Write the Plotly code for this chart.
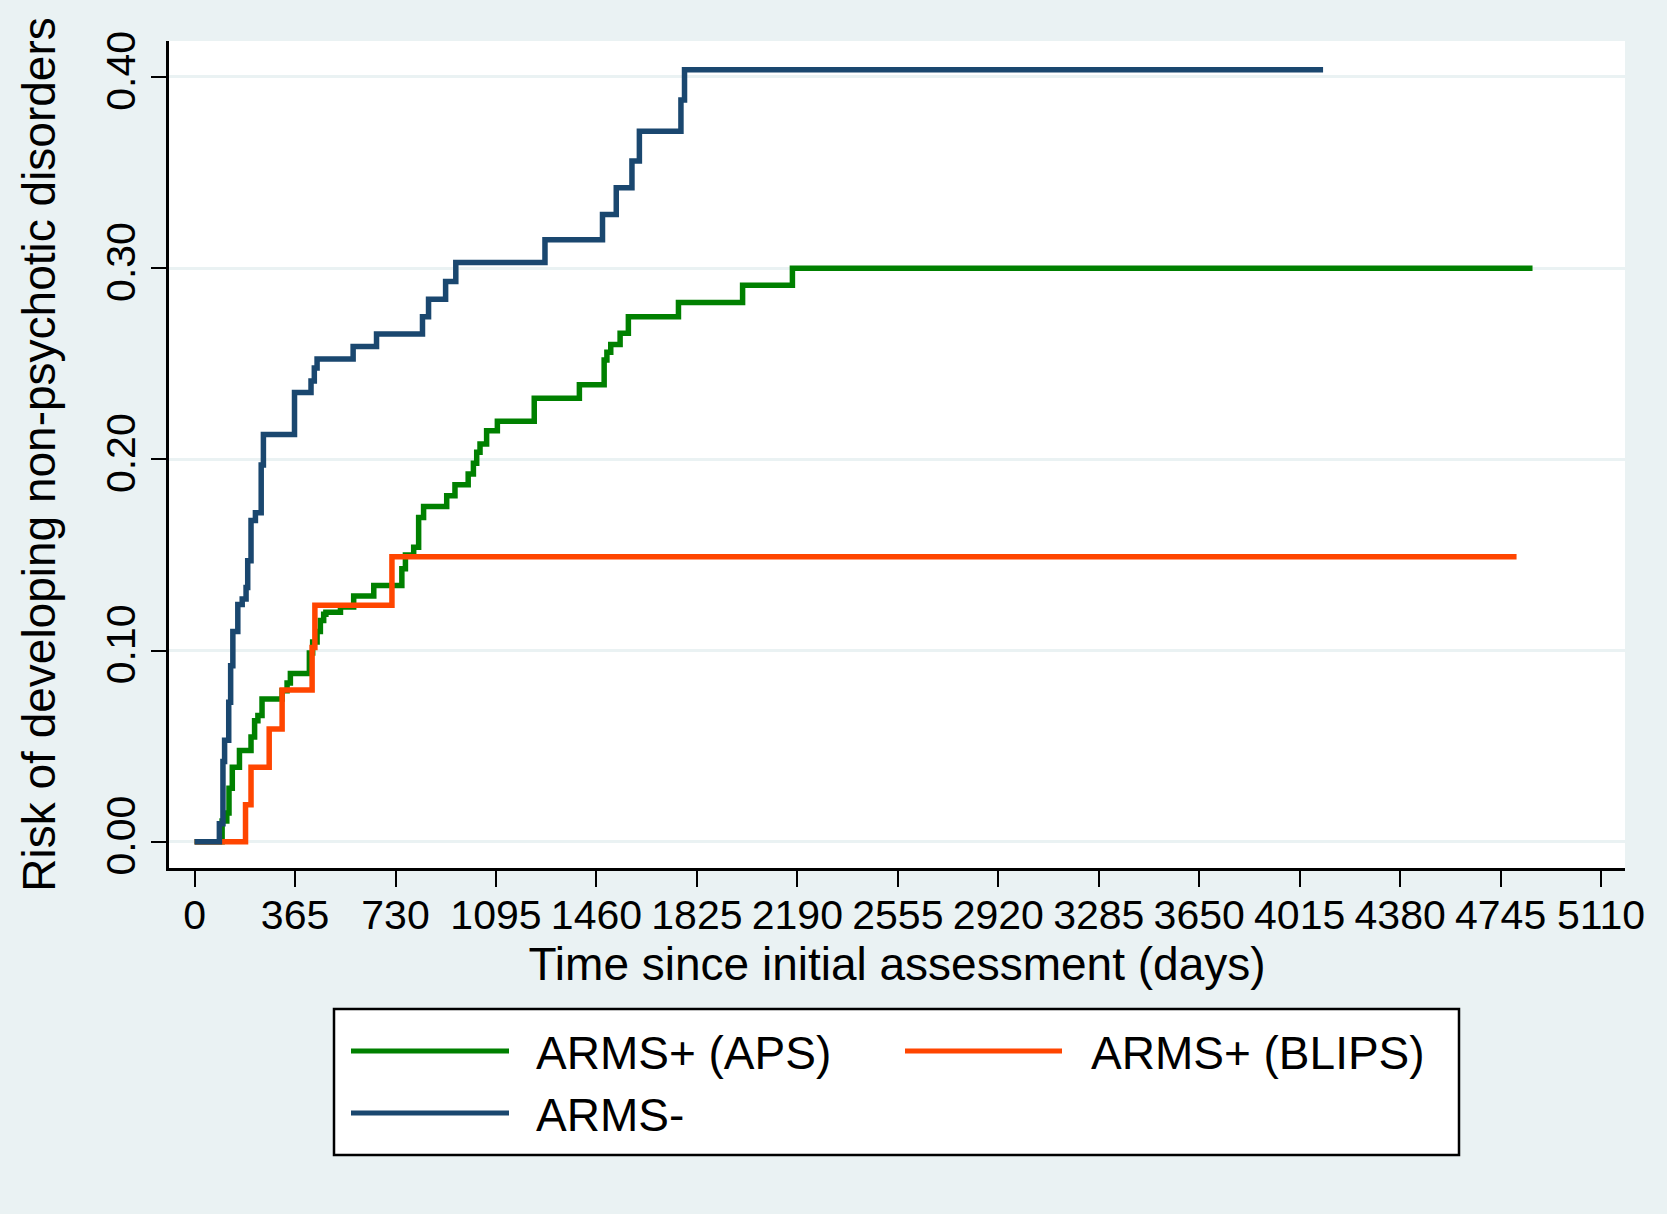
import plotly.graph_objects as go

# ---------------- data ----------------
series_names = ["ARMS+ (APS)", "ARMS+ (BLIPS)", "ARMS-"]
series_colors = ["#008000", "#FF4500", "#1A476F"]

aps_days = [0, 100, 117, 125, 137, 163, 205, 218, 230, 245, 318, 336, 348, 417, 429,
            445, 457, 469, 477, 530, 578, 651, 753, 766, 796, 814, 832, 916, 946, 994,
            1013, 1025, 1037, 1061, 1100, 1234, 1398, 1488, 1498, 1512, 1546, 1576,
            1758, 1991, 2172, 4861]
aps_risk = [0.0, 0.0108, 0.015, 0.028, 0.039, 0.0477, 0.0548, 0.0633, 0.066, 0.0746,
            0.0789, 0.083, 0.088, 0.0987, 0.1044, 0.110, 0.1157, 0.119, 0.120, 0.1228,
            0.1285, 0.134, 0.1427, 0.150, 0.154, 0.1696, 0.1753, 0.181, 0.1867, 0.1923,
            0.198, 0.2037, 0.208, 0.215, 0.2199, 0.232, 0.239, 0.252, 0.256, 0.260,
            0.266, 0.2746, 0.282, 0.291, 0.300, 0.300]

blips_days = [0, 185, 205, 271, 318, 427, 437, 717, 4803]
blips_risk = [0.0, 0.0193, 0.039, 0.059, 0.0794, 0.1016, 0.1237, 0.149, 0.149]

neg_days = [0, 90, 103, 109, 124, 131, 139, 157, 173, 187, 193, 205, 221, 242, 250,
            363, 423, 435, 445, 576, 661, 828, 850, 912, 949, 1273, 1482, 1532, 1589,
            1616, 1767, 1780, 4100]
neg_risk = [0.0, 0.0094, 0.042, 0.053, 0.073, 0.092, 0.110, 0.124, 0.127, 0.133,
            0.147, 0.168, 0.172, 0.197, 0.213, 0.235, 0.241, 0.2477, 0.2525, 0.259,
            0.2655, 0.2746, 0.2837, 0.293, 0.303, 0.3149, 0.328, 0.342, 0.356, 0.3716,
            0.388, 0.4037, 0.4037]

x_ticks = list(range(0, 5111, 365))
y_ticks = [0.0, 0.1, 0.2, 0.3, 0.4]
y_tick_labels = ["0.00", "0.10", "0.20", "0.30", "0.40"]

x_title = "Time since initial assessment (days)"
y_title = "Risk of developing non-psychotic disorders"

# ---------------- figure ----------------
FONT = "Liberation Sans, Arial, Helvetica, sans-serif"
BG = "#EAF2F3"
W, H = 1667, 1214
L, R, T, B = 169, 1625, 41, 868


def px(xp):
    return (xp - L) / (R - L)


def py(yp):
    return (B - yp) / (B - T)


fig = go.Figure()
all_days = [aps_days, blips_days, neg_days]
all_risk = [aps_risk, blips_risk, neg_risk]
for name, color, d, r in zip(series_names, series_colors, all_days, all_risk):
    fig.add_trace(go.Scatter(x=d, y=r, mode="lines", name=name,
                             line=dict(color=color, width=5.5, shape="hv")))

# custom legend (Stata style box with long line keys)
shapes = [dict(type="rect", xref="paper", yref="paper",
               x0=px(334), x1=px(1459), y0=py(1155), y1=py(1009),
               line=dict(color="black", width=2.5), fillcolor="white")]
annotations = []
col_line = [(351, 509, 534), (905, 1062, 1089)]
row_y = [1053, 1115]
for i, (name, color) in enumerate(zip(series_names, series_colors)):
    c, rw = i % 2, i // 2
    lx0, lx1, tx = col_line[c]
    yy = row_y[rw]
    shapes.append(dict(type="line", xref="paper", yref="paper",
                       x0=px(lx0), x1=px(lx1), y0=py(yy - 2), y1=py(yy - 2),
                       line=dict(color=color, width=5)))
    annotations.append(dict(xref="paper", yref="paper", x=px(tx), y=py(yy),
                            text=name, showarrow=False, xanchor="left",
                            yanchor="middle", font=dict(size=46, color="black",
                                                        family=FONT)))

fig.update_layout(
    width=W, height=H,
    margin=dict(l=L, r=W - R, t=T, b=H - B, autoexpand=False),
    paper_bgcolor=BG, plot_bgcolor="white",
    showlegend=False,
    font=dict(family=FONT, color="black"),
    shapes=shapes, annotations=annotations,
    xaxis=dict(range=[-93, 5197], tickvals=x_ticks, ticks="outside", ticklen=16,
               tickwidth=2, tickcolor="black", showline=True, linecolor="black",
               linewidth=3, showgrid=False, zeroline=False,
               tickfont=dict(size=41, family=FONT), ticklabelstandoff=-7,
               title=dict(text=x_title, font=dict(size=46, family=FONT), standoff=8),
               automargin=False),
    yaxis=dict(range=[-0.01376, 0.4188], tickvals=y_ticks, ticktext=y_tick_labels,
               tickangle=-90, ticks="outside", ticklen=15, tickwidth=2,
               tickcolor="black", showline=True, linecolor="black", linewidth=3,
               showgrid=True, gridcolor=BG, gridwidth=3, zeroline=False,
               tickfont=dict(size=41, family=FONT),
               title=dict(text=y_title, font=dict(size=46, family=FONT), standoff=28),
               automargin=False),
)

fig.write_html("out.html", config={"displayModeBar": False},
               post_script="document.body.style.margin='0';")
